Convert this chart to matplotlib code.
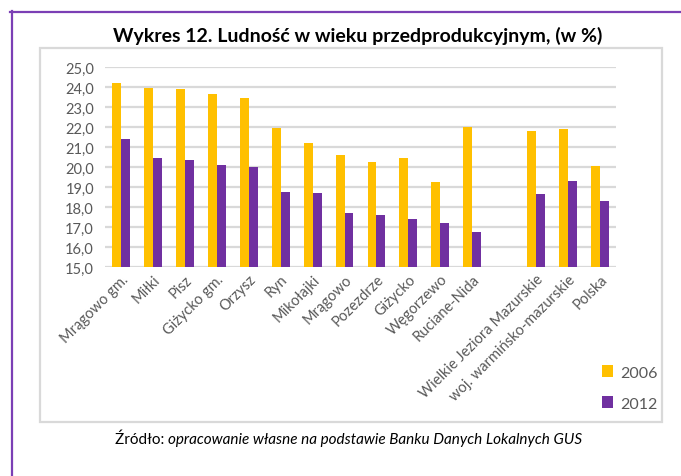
import matplotlib.pyplot as plt
import numpy as np
from matplotlib.lines import Line2D
from matplotlib.patches import Rectangle
from matplotlib.ticker import FuncFormatter

plt.rcParams['font.family'] = ['Lato', 'DejaVu Sans']

# dane (pusta kategoria = przerwa)
gminy = ['Mrągowo gm.', 'Miłki', 'Pisz', 'Giżycko gm.', 'Orzysz', 'Ryn',
         'Mikołajki', 'Mrągowo', 'Pozezdrze', 'Giżycko', 'Węgorzewo',
         'Ruciane-Nida', '', 'Wielkie Jeziora Mazurskie',
         'woj. warmińsko-mazurskie', 'Polska']
wart_2006 = [24.2, 23.95, 23.88, 23.63, 23.43, 21.97, 21.18, 20.62, 20.23,
             20.43, 19.27, 22.02, np.nan, 21.78, 21.9, 20.03]
wart_2012 = [21.4, 20.43, 20.37, 20.1, 19.98, 18.75, 18.68, 17.68, 17.6,
             17.42, 17.22, 16.77, np.nan, 18.63, 19.28, 18.3]

ZOLTY = '#FFC000'
FIOLET = '#7030A0'
SZARY = '#595959'

fig = plt.figure(figsize=(6.81, 4.77), dpi=100)
W, H = 681, 477

# ramka strony i ramka wykresu
fig.add_artist(Line2D([10 / W, 1], [1 - 12.5 / H, 1 - 12.5 / H],
                      color='#7B3FB5', lw=1.6, transform=fig.transFigure))
fig.add_artist(Line2D([12 / W, 12 / W], [0, 1 - 12 / H],
                      color='#7B3FB5', lw=1.6, transform=fig.transFigure))
fig.add_artist(Rectangle((40 / W, 1 - 423 / H), 622 / W, 374 / H,
                         fill=False, edgecolor='#D9D9D9', lw=1.6,
                         transform=fig.transFigure))

ax = fig.add_axes([105 / W, 1 - 268 / H, 511 / W, 200 / H])

x = np.arange(len(gminy))
w = 0.28
ax.bar(x - w / 2, wart_2006, w, color=ZOLTY, label='2006', zorder=3)
ax.bar(x + w / 2, wart_2012, w, color=FIOLET, label='2012', zorder=3)

ax.set_ylim(15, 25)
ax.set_xlim(-0.5, len(gminy) - 0.5)
ax.set_yticks(np.arange(15, 26, 1))
ax.yaxis.set_major_formatter(FuncFormatter(lambda v, p: f'{v:.1f}'.replace('.', ',')))
ax.grid(axis='y', color='#D9D9D9', lw=1.6, zorder=0)
for s in ax.spines.values():
    s.set_visible(False)
ax.tick_params(length=0, colors=SZARY, labelsize=10.5)
ax.tick_params(axis='y', pad=8)
ax.set_xticks(x)
ax.set_xticklabels(gminy, rotation=45, ha='right', rotation_mode='anchor')

ax.legend(loc='upper left', bbox_to_anchor=(0.945, -0.42), frameon=False,
          fontsize=11.5, labelcolor=SZARY, handlelength=0.7, handleheight=0.7,
          labelspacing=1.05, handletextpad=0.4)

fig.text(358 / W, 1 - 36 / H, 'Wykres 12. Ludność w wieku przedprodukcyjnym, (w %)',
         ha='center', va='center', fontsize=14, fontweight='bold')

t1 = fig.text(115 / W, 1 - 440 / H, 'Źródło: ', ha='left', va='center',
              fontsize=11)
ax.annotate('opracowanie własne na podstawie Banku Danych Lokalnych GUS',
            xy=(1, 0.5), xycoords=t1, va='center', ha='left',
            fontsize=11, fontstyle='italic')

fig.savefig('out.png', dpi=100)
